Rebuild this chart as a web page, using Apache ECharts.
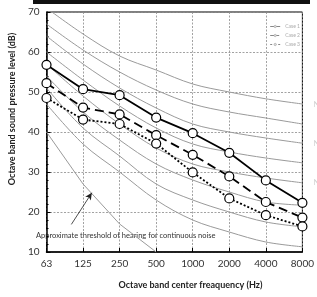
<!DOCTYPE html>
<html>
<head>
<meta charset="utf-8">
<script src="https://cdn.jsdelivr.net/npm/echarts@6/dist/echarts.min.js"></script>
<style>
  html, body { margin: 0; padding: 0; background: #fff; }
  #chart { width: 317px; height: 297px; }
</style>
</head>
<body>
<div id="chart"></div>
<script>
// octave band centres (Hz)
var bands = ['63', '125', '250', '500', '1000', '2000', '4000', '8000'];

// measured spectra
var seriesNames = ['Case 1', 'Case 2', 'Case 3'];
var solidVals  = [56.8, 50.7, 49.2, 43.6, 39.7, 34.8, 27.9, 22.3];
var dashedVals = [52.2, 46.1, 44.4, 39.2, 34.3, 28.9, 22.5, 18.6];
var dottedVals = [48.5, 43.1, 42.0, 37.1, 29.9, 23.4, 19.2, 16.4];

// background NC curves
var ncNames = ['NC-50', 'NC-45', 'NC-40', 'NC-35', 'NC-30', 'NC-25', 'NC-20', 'NC-15'];
var ncVals = [
  [71, 64.5, 59, 55.5, 52, 50, 48.3, 47],
  [67, 60.5, 55, 50.5, 47, 45, 43.5, 42],
  [64, 57, 51, 46, 42, 40, 38.5, 37.2],
  [60, 53, 46.5, 41, 37, 35, 33.5, 32.3],
  [57, 49, 42, 36, 32, 30, 28.5, 27.3],
  [54, 45, 38, 32, 28, 25, 22.5, 21.7],
  [51, 41, 34, 27, 23, 20, 17.5, 16.3],
  [47, 37, 30, 23, 18, 15, 12.5, 11.3]
];
var ncLabelled = ['NC-50', 'NC-40', 'NC-30'];

// approximate threshold of hearing (63..500 Hz)
var thresholdVals = [40, 27, 17, 10];

var yTicks = [10, 20, 30, 40, 50, 60, 70];

function pts(arr) {
  return arr.map(function (v, i) { return [i, v]; });
}

var chart = echarts.init(document.getElementById('chart'));
var font = 'Lato, "Open Sans", sans-serif';

var series = [];

// NC curves
ncVals.forEach(function (vals, k) {
  var lab = ncLabelled.indexOf(ncNames[k]) >= 0;
  series.push({
    name: ncNames[k],
    type: 'line',
    data: pts(vals),
    smooth: 0.35,
    symbol: 'none',
    silent: true,
    z: 1,
    lineStyle: { color: '#9a9a9a', width: 1 },
    endLabel: {
      show: lab,
      formatter: ncNames[k],
      color: '#d0d0d0',
      fontSize: 8,
      distance: 11,
      fontFamily: font
    }
  });
});

// threshold of hearing + arrow pointing at it
series.push({
  name: 'threshold',
  type: 'line',
  data: pts(thresholdVals),
  symbol: 'none',
  silent: true,
  z: 1,
  lineStyle: { color: '#9a9a9a', width: 1 },
  markLine: {
    silent: true,
    symbol: ['none', 'arrow'],
    symbolSize: [5, 7],
    label: { show: false },
    lineStyle: { color: '#222', width: 0.8, type: 'solid' },
    data: [[{ coord: [0.68, 16.9] }, { coord: [1.24, 24.8] }]]
  }
});

var styles = [
  { vals: solidVals, type: 'solid' },
  { vals: dashedVals, type: [9, 5] },
  { vals: dottedVals, type: [2, 2] }
];
styles.forEach(function (s, k) {
  series.push({
    name: seriesNames[k],
    type: 'line',
    data: pts(s.vals),
    symbol: 'circle',
    symbolSize: 9,
    z: 5,
    itemStyle: { color: '#fff', borderColor: '#000', borderWidth: 1.2 },
    lineStyle: { color: '#000', width: 1.8, type: s.type }
  });
});

var option = {
  animation: false,
  backgroundColor: '#fff',
  grid: {
    left: 35, right: 10, top: 12, bottom: 45,
    show: true, borderColor: '#000', borderWidth: 1
  },
  legend: {
    data: seriesNames,
    orient: 'vertical',
    right: 12, top: 19,
    itemWidth: 10, itemHeight: 3, itemGap: 4,
    itemStyle: { color: '#ddd', borderColor: '#999', borderWidth: 0.5 },
    lineStyle: { color: '#888', width: 1 },
    textStyle: { fontSize: 5, color: '#aaa', fontFamily: font }
  },
  xAxis: {
    type: 'value',
    min: 0, max: 7, interval: 1,
    name: 'Octave band center freaquency (Hz)',
    nameLocation: 'middle',
    nameGap: 29,
    nameTextStyle: { fontSize: 9, fontWeight: 'bold', color: '#222', fontFamily: font, padding: [0, 0, 0, 32] },
    axisLine: { onZero: false, lineStyle: { color: '#000', width: 1.5 } },
    axisTick: { inside: true, length: 4, lineStyle: { color: '#000' } },
    axisLabel: {
      fontSize: 10, color: '#333', fontFamily: font, margin: 7,
      formatter: function (v) { return bands[v] || ''; }
    },
    splitLine: { show: true, lineStyle: { color: '#8a8a8a', type: [2, 1.5], width: 0.8 } }
  },
  yAxis: {
    type: 'value',
    min: yTicks[0], max: yTicks[yTicks.length - 1], interval: 10,
    name: 'Octave band sound pressure level (dB)',
    nameLocation: 'middle',
    nameGap: 25,
    nameTextStyle: { fontSize: 9, fontWeight: 'bold', color: '#222', fontFamily: font, padding: [0, 0, 0, 46] },
    axisLine: { show: true, lineStyle: { color: '#000', width: 1.5 } },
    axisTick: { inside: true, length: 4, lineStyle: { color: '#000' } },
    minorTick: { show: true, splitNumber: 5, length: 2, lineStyle: { color: '#000' } },
    axisLabel: { fontSize: 10, color: '#333', fontFamily: font, margin: 7 },
    splitLine: { show: true, lineStyle: { color: '#8a8a8a', type: [2, 1.5], width: 0.8 } }
  },
  graphic: [
    {
      type: 'rect', left: 33, top: 0, z: 10,
      shape: { width: 277, height: 4 },
      style: { fill: '#111' }
    },
    {
      type: 'group', left: 36, top: 230, z: 10,
      children: [
        { type: 'rect', shape: { width: 178, height: 12 }, style: { fill: '#fff' } },
        {
          type: 'text', left: 0, top: 1.5,
          style: {
            text: 'Approximate threshold of hearing for continuous noise',
            fontSize: 7.5, fill: '#333', fontFamily: font
          }
        }
      ]
    }
  ],
  series: series
};

chart.setOption(option);
</script>
</body>
</html>
